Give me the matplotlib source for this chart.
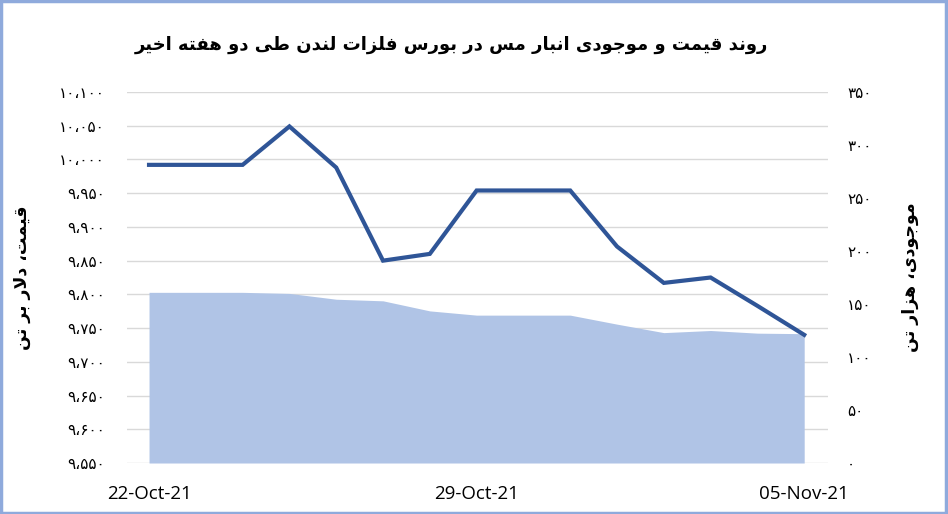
import matplotlib
matplotlib.use('Agg')
import matplotlib.pyplot as plt
from matplotlib.patches import Rectangle


# داده ها (روزانه، تعطیلات با مقدار روز قبل)
dates = ['22-Oct-21', '23-Oct-21', '24-Oct-21', '25-Oct-21', '26-Oct-21',
         '27-Oct-21', '28-Oct-21', '29-Oct-21', '30-Oct-21', '31-Oct-21',
         '01-Nov-21', '02-Nov-21', '03-Nov-21', '04-Nov-21', '05-Nov-21']
price = [9992, 9992, 9992, 10049, 9988, 9850, 9860, 9954, 9954, 9954,
         9871, 9817, 9825, 9783, 9740]
stock = [161, 161, 161, 160, 154.5, 153, 143.5, 139.5, 139.5, 139.5,
         131, 123, 125, 122.5, 122]
shown_dates = ['22-Oct-21', '29-Oct-21', '05-Nov-21']

title = 'روند قیمت و موجودی انبار مس در بورس فلزات لندن طی دو هفته اخیر'
left_label = 'قیمت، دلار بر تن'
right_label = 'موجودی، هزار تن'

price_ticks = list(range(9550, 10101, 50))
stock_ticks = list(range(0, 351, 50))

LINE_COLOR = '#2F5597'
AREA_COLOR = '#B0C4E6'
GRID_COLOR = '#D9D9D9'
BORDER_COLOR = '#8FAADC'

# شکل های حروف: (تنها، پایانی، آغازین، میانی)
FORMS = {
    'ا': ('\uFE8D', '\uFE8E', None, None),
    'ب': ('\uFE8F', '\uFE90', '\uFE91', '\uFE92'),
    'ت': ('\uFE95', '\uFE96', '\uFE97', '\uFE98'),
    'ج': ('\uFE9D', '\uFE9E', '\uFE9F', '\uFEA0'),
    'خ': ('\uFEA5', '\uFEA6', '\uFEA7', '\uFEA8'),
    'د': ('\uFEA9', '\uFEAA', None, None),
    'ر': ('\uFEAD', '\uFEAE', None, None),
    'ز': ('\uFEAF', '\uFEB0', None, None),
    'س': ('\uFEB1', '\uFEB2', '\uFEB3', '\uFEB4'),
    'ط': ('\uFEC1', '\uFEC2', '\uFEC3', '\uFEC4'),
    'ف': ('\uFED1', '\uFED2', '\uFED3', '\uFED4'),
    'ق': ('\uFED5', '\uFED6', '\uFED7', '\uFED8'),
    'ل': ('\uFEDD', '\uFEDE', '\uFEDF', '\uFEE0'),
    'م': ('\uFEE1', '\uFEE2', '\uFEE3', '\uFEE4'),
    'ن': ('\uFEE5', '\uFEE6', '\uFEE7', '\uFEE8'),
    'ه': ('\uFEE9', '\uFEEA', '\uFEEB', '\uFEEC'),
    'و': ('\uFEED', '\uFEEE', None, None),
    'ی': ('\uFBFC', '\uFBFD', '\uFBFE', '\uFBFF'),
}
LAM_ALEF = ('\uFEFB', '\uFEFC')


def shape(text):
    # اتصال حروف و راست به چپ برای matplotlib
    chars = list(text)
    out = []
    i = 0
    while i < len(chars):
        c = chars[i]
        prev = chars[i - 1] if i > 0 else None
        joins_prev = prev in FORMS and FORMS[prev][2] is not None
        if c == 'ل' and i + 1 < len(chars) and chars[i + 1] == 'ا':
            out.append(LAM_ALEF[1] if joins_prev else LAM_ALEF[0])
            i += 2
            continue
        if c not in FORMS:
            out.append(c)
            i += 1
            continue
        nxt = chars[i + 1] if i + 1 < len(chars) else None
        f = FORMS[c]
        joins_next = f[2] is not None and nxt in FORMS
        if joins_prev and joins_next:
            out.append(f[3])
        elif joins_prev:
            out.append(f[1])
        elif joins_next:
            out.append(f[2])
        else:
            out.append(f[0])
        i += 1
    return ''.join(reversed(out))


def fa_num(n):
    digits = '۰۱۲۳۴۵۶۷۸۹'
    s = str(n)
    if n >= 1000:
        s = s[:-3] + '،' + s[-3:]
    return ''.join(digits[int(d)] if d.isdigit() else d for d in s)


plt.rcParams['font.family'] = ['DejaVu Sans']

fig = plt.figure(figsize=(9.48, 5.14), dpi=100)
ax = fig.add_axes([0.134, 0.0992, 0.739, 0.7218])
ax2 = ax.twinx()

x = list(range(len(dates)))

ax2.fill_between(x, 0, stock, color=AREA_COLOR, linewidth=0, zorder=1)
ax2.set_ylim(0, 350)
ax2.set_yticks(stock_ticks)
ax2.set_yticklabels([fa_num(v) for v in stock_ticks], fontsize=11)

ax.set_zorder(ax2.get_zorder() + 1)
ax.patch.set_visible(False)
ax.plot(x, price, color=LINE_COLOR, linewidth=3, solid_joinstyle='miter', zorder=3)
ax.set_ylim(9550, 10100)
ax.set_yticks(price_ticks)
ax.set_yticklabels([fa_num(v) for v in price_ticks], fontsize=11)
ax.set_xlim(-0.47, 14.5)
ax.set_xticks([dates.index(d) for d in shown_dates])
ax.set_xticklabels(shown_dates, fontsize=13.5, family='Open Sans')

# خطوط شبکه زیر سطح
for v in price_ticks:
    ax2.axhline((v - 9550) / 550 * 350, color=GRID_COLOR, linewidth=1, zorder=0)

for a in (ax, ax2):
    for s in a.spines.values():
        s.set_visible(False)
    a.tick_params(length=0)
ax.tick_params(axis='y', pad=16)
ax2.tick_params(axis='y', pad=14)
ax.tick_params(axis='x', pad=16)

ax.set_ylabel(shape(left_label), fontsize=12.5, fontweight='bold', labelpad=20)
ax2.set_ylabel(shape(right_label), fontsize=12.5, fontweight='bold', rotation=90,
               labelpad=21)

fig.text(0.476, 0.912, shape(title), ha='center', va='center', fontsize=13,
         fontweight='bold')

fig.patches.append(Rectangle((0.001, 0.002), 0.997, 0.996, transform=fig.transFigure,
                             fill=False, edgecolor=BORDER_COLOR, linewidth=2.5))

fig.savefig('out.png', dpi=100)
